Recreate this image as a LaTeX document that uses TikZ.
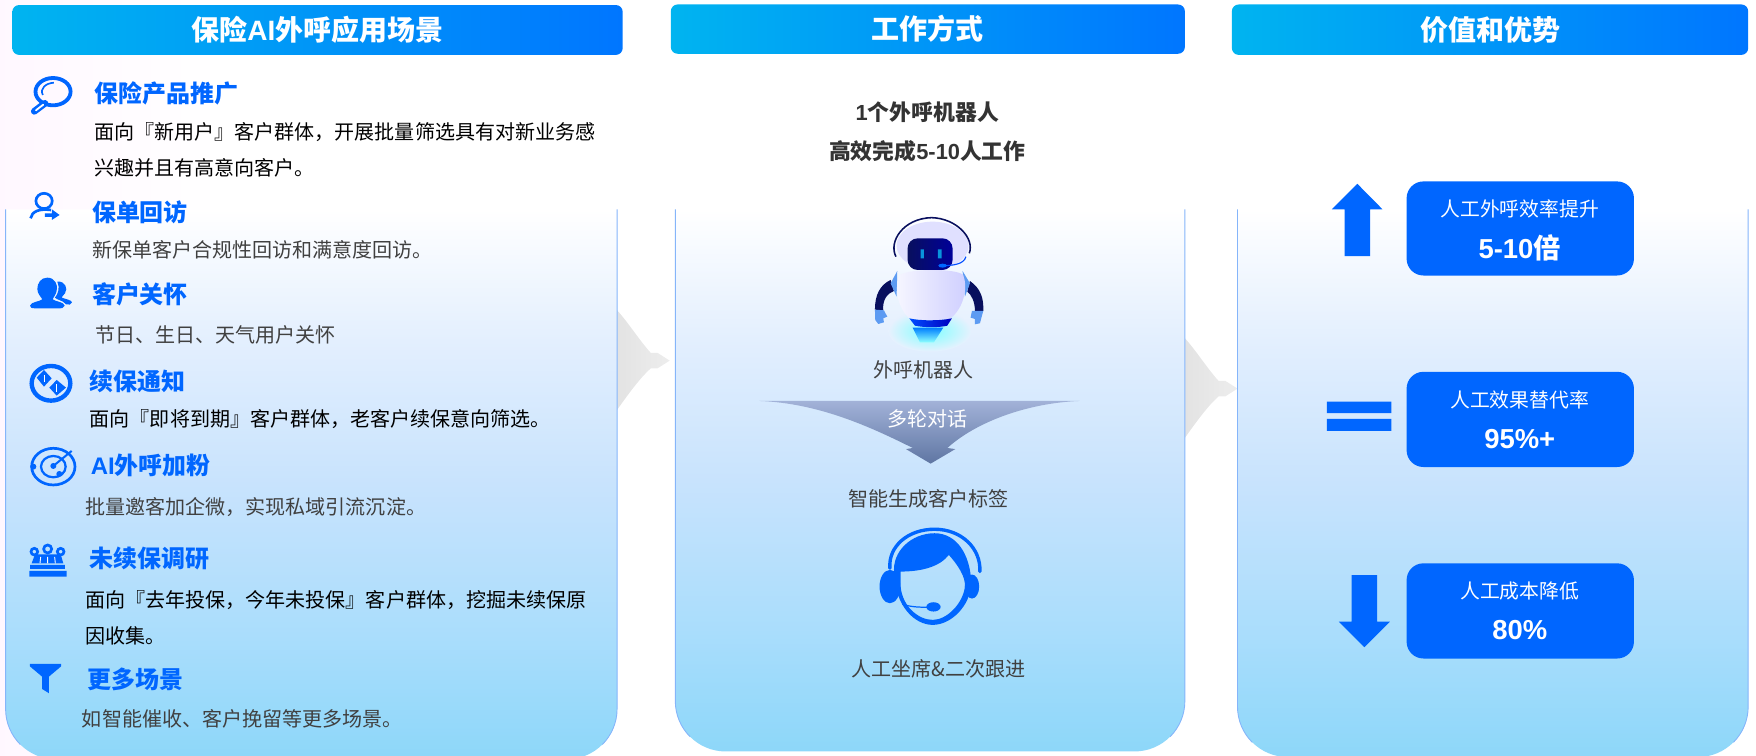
\documentclass[tikz,border=0pt]{standalone}
\usepackage{fontspec}
\setmainfont{Noto Sans CJK SC}
\newfontfamily\latinfont{Liberation Sans}
\newfontfamily\cjkfont{Noto Sans CJK SC}
\usetikzlibrary{positioning}
\definecolor{mainblue}{HTML}{0066FF}
\definecolor{edgeblue}{HTML}{85B5FA}
\definecolor{darktext}{HTML}{404040}
\definecolor{navy}{HTML}{080F5E}
\definecolor{barleft}{HTML}{00B4F0}
\definecolor{barright}{HTML}{0076FF}
\definecolor{handblue}{HTML}{5D9BF2}
\definecolor{funneltop}{HTML}{A2B2D8}
\definecolor{funnelend}{HTML}{5F76A3}
\newcommand{\fsize}[1]{\fontsize{#1}{#1}\selectfont}
\pgfdeclareverticalshading{panelfade}{100bp}{rgb(0bp)=(0.553,0.843,0.976); rgb(25bp)=(0.553,0.843,0.976); rgb(36bp)=(0.663,0.867,0.988); rgb(50bp)=(0.784,0.890,0.992); rgb(63bp)=(0.890,0.937,0.996); rgb(75bp)=(1,1,1); rgb(100bp)=(1,1,1)}
\tikzset{headbar/.style={rounded corners=6pt, left color=barleft, middle color=barleft, right color=barright}}
\tikzset{headtext/.style={text=white, font=\fsize{25}\bfseries}}
\tikzset{paneledge/.style={draw=edgeblue, line width=0.8pt}}
\tikzset{scenetitle/.style={anchor=west, inner sep=0pt, text=mainblue, font=\fsize{21.4}\bfseries}}
\tikzset{scenetext/.style={anchor=west, inner sep=0pt, text=black, font=\fsize{17.9}}}
\tikzset{scenegray/.style={scenetext, text=darktext}}
\tikzset{midtext/.style={inner sep=0pt, text=darktext, font=\fsize{17.9}}}
\tikzset{midbold/.style={inner sep=0pt, text=black!80, font=\fsize{19.5}\bfseries}}
\tikzset{valuebox/.style={fill=mainblue, rounded corners=15pt}}
\tikzset{valuetop/.style={inner sep=0pt, text=white, font=\fsize{17.7}}}
\tikzset{valuenum/.style={inner sep=0pt, text=white, font=\fsize{24.5}\bfseries\latinfont}}
\tikzset{chevron/.style={left color=black!11, right color=black!7}}
\tikzset{iconfill/.style={fill=mainblue, draw=none}}
\tikzset{iconline/.style={draw=mainblue, fill=none}}
\tikzset{iconscale/.style={x=0.2976pt, y=-0.2976pt}}
\begin{document}
\begin{tikzpicture}[x=1pt,y=-1pt]
    \useasboundingbox (0,0) rectangle (1568,675);
    \shade[left color=magenta!3, right color=white] (0,0) rectangle (200,675);

    % chevrons
    \foreach \xa/\ya in {551/322, 1058/347}{
        \shade[chevron] (\xa,\ya-45) .. controls (\xa+10,\ya-34) and (\xa+20,\ya-18) .. (\xa+30,\ya-7)
            -- (\xa+36,\ya-7) -- (\xa+47,\ya) -- (\xa+36,\ya+7) -- (\xa+30,\ya+7)
            .. controls (\xa+20,\ya+16) and (\xa+10,\ya+30) .. (\xa,\ya+44) -- cycle;
    }

    % panels
    \foreach \xa/\xb/\yb in {5/551/678, 603/1058/671, 1105/1561/676}{
        \shade[shading=panelfade] (\xa,187) -- (\xa,\yb-45) arc[start angle=180, end angle=90, x radius=45pt, y radius=-45pt]
            -- (\xb-45,\yb) arc[start angle=90, end angle=0, x radius=45pt, y radius=-45pt] -- (\xb,187) -- cycle;
        \draw[paneledge] (\xa,187) -- (\xa,\yb-45) arc[start angle=180, end angle=135, x radius=45pt, y radius=-45pt];
        \draw[paneledge] (\xb,187) -- (\xb,\yb-45) arc[start angle=0, end angle=45, x radius=45pt, y radius=-45pt];
    }

    % header bars
    \shade[headbar] (11,4.5) rectangle (556,49);
    \shade[headbar] (599,4) rectangle (1058,48);
    \shade[headbar] (1100,4) rectangle (1561,49);
    \node[headtext](headscene) at (283.5,27){保险{\latinfont AI}外呼应用场景};
    \node[headtext](headwork) at (828.5,26){工作方式};
    \node[headtext](headvalue) at (1331,27){价值和优势};

    % left column
    \node[scenetitle](titlea) at (84,83){保险产品推广};
    \node[scenetext](texta) at (84,118){面向『新用户』客户群体，开展批量筛选具有对新业务感};
    \node[scenetext](textaa) at (84,150){兴趣并且有高意向客户。};
    \node[scenetitle](titleb) at (82,190){保单回访};
    \node[scenegray](textb) at (82,223){新保单客户合规性回访和满意度回访。};
    \node[scenetitle](titlec) at (82,263){客户关怀};
    \node[scenegray](textc) at (85,299){节日、生日、天气用户关怀};
    \node[scenetitle](titled) at (80,341){续保通知};
    \node[scenetext](textd) at (80,374){面向『即将到期』客户群体，老客户续保意向筛选。};
    \node[scenetitle](titlee) at (81,416){{\latinfont AI}外呼加粉};
    \node[scenegray](texte) at (76,453){批量邀客加企微，实现私域引流沉淀。};
    \node[scenetitle](titlef) at (80,499){未续保调研};
    \node[scenetext](textf) at (76,536){面向『去年投保，今年未投保』客户群体，挖掘未续保原};
    \node[scenetext](textff) at (76,568){因收集。};
    \node[scenetitle](titleg) at (78,607){更多场景};
    \node[scenegray](textg) at (73,642){如智能催收、客户挽留等更多场景。};

    % left icons
    \begin{scope}[x=0.3644pt, y=-0.2976pt]
        \draw[iconline, line width=3.4pt] (130,275) ellipse[x radius=43, y radius=41];
        \draw[iconline, line width=1.5pt] (105,285) .. controls (97,265) and (112,250) .. (132,248);
        \draw[mainblue, line width=6pt, line cap=round] (110,310) -- (84,334);
        \draw[white, line width=1.6pt, line cap=round] (106,314) -- (88,331);
        \draw[iconline, line width=2.4pt] (108,603) ellipse[x radius=20, y radius=23];
        \draw[iconline, line width=2.4pt] (75,655) .. controls (78,635) and (95,625) .. (125,630);
        \fill[iconfill] (110,640) -- (127,640) -- (127,628) -- (146,645) -- (127,660) -- (127,651) -- (110,651) -- cycle;
        \fill[iconfill] (73,1992) -- (150,1992) -- (150,1999) -- (120,2030) -- (120,2080) -- (103,2067) -- (103,2030) -- (73,1999) -- cycle;
    \end{scope}
    \begin{scope}[shift={(17.86,236.6)}, iconscale]
        \fill[iconfill] (82,38) .. controls (105,38) and (115,60) .. (110,78) .. controls (107,90) and (100,98) .. (98,103)
            .. controls (105,110) and (132,110) .. (134,122) .. controls (132,130) and (125,130) .. (115,130) -- (45,130)
            .. controls (35,130) and (30,128) .. (30,122) .. controls (33,110) and (60,110) .. (67,103)
            .. controls (62,95) and (52,85) .. (52,72) .. controls (52,55) and (62,38) .. (82,38) -- cycle;
        \fill[iconfill] (112,50) .. controls (135,48) and (145,70) .. (135,85) .. controls (130,92) and (125,95) .. (125,98)
            .. controls (135,102) and (155,105) .. (156,112) .. controls (155,120) and (145,120) .. (138,118)
            .. controls (128,105) and (110,105) .. (105,98) .. controls (115,85) and (120,70) .. (112,50) -- cycle;
    \end{scope}
    \begin{scope}[shift={(17.86,316.96)}, iconscale]
        \draw[iconline, line width=3.9pt] (93,85) ellipse[x radius=58, y radius=52];
        \fill[iconfill] (50,68) -- (72,45) -- (95,70) -- (72,95) -- cycle (88,98) -- (110,75) -- (138,98) -- (110,122) -- cycle;
        \draw[white, line width=0.7pt] (72,60) -- (72,82) (110,88) -- (110,110);
    \end{scope}
    \begin{scope}[shift={(17.86,392.86)}, iconscale]
        \draw[iconline, line width=2.4pt] (100,80) ellipse[x radius=65, y radius=55];
        \draw[iconline, line width=2pt] (100,80) ellipse[x radius=37, y radius=32];
        \draw[mainblue, line width=1.8pt] (100,78) -- (155,33);
        \fill[iconfill] (100,78) circle[radius=9] (40,80) circle[radius=9] (118,102) circle[radius=9];
    \end{scope}
    \begin{scope}[shift={(17.86,477.7)}, iconscale]
        \draw[iconline, line width=2.4pt] (83,42) circle[radius=12] (43,50) circle[radius=10] (122,50) circle[radius=10];
        \fill[iconfill] (45,58) -- (122,58) -- (130,85) -- (35,85) -- cycle;
        \draw[white, line width=0.8pt] (62,66) -- (60,85) (83,66) -- (83,85) (104,66) -- (106,85);
        \fill[iconfill] (30,90) -- (135,90) -- (135,102) -- (30,102) -- cycle (28,108) -- (140,108) -- (140,125) -- (28,125) -- cycle;
    \end{scope}

    % middle column
    \node[midbold](roboa) at (828,100){{\latinfont 1}个外呼机器人};
    \node[midbold](robob) at (828,135){高效完成{\latinfont 5-10}人工作};
    \node[midtext](robolabel) at (825,330){外呼机器人};
    \shade[top color=funneltop, bottom color=funnelend] (678,358) .. controls (730,360) and (775,380) .. (815,400)
        -- (809,401) -- (831,414) -- (853,401) -- (846,400) .. controls (870,378) and (915,360) .. (964,358) -- cycle;
    \node[midtext, text=white](dialog) at (828,374){多轮对话};
    \node[midtext](taglabel) at (829,445){智能生成客户标签};
    \node[midtext](agentlabel) at (838,597){人工坐席\&二次跟进};

    % robot
    \begin{scope}[shift={(767.86,183.04)}, iconscale]
        \definecolor{glowback}{rgb}{0.905,0.945,0.996}
        \shade[inner color=cyan!50!white, outer color=glowback] (210,378) ellipse[x radius=125, y radius=62];
        \fill[navy] (92,225) .. controls (60,240) and (45,270) .. (45,314) -- (70,316) .. controls (67,285) and (82,265) .. (102,258) -- cycle;
        \fill[navy] (330,228) .. controls (362,250) and (372,280) .. (370,318) -- (345,318) .. controls (345,290) and (335,270) .. (322,260) -- cycle;
        \fill[handblue] (45,314) -- (72,316) -- (82,335) -- (70,340) -- (72,352) -- (55,357) -- (46,345) -- cycle;
        \fill[handblue] (370,318) -- (336,318) -- (332,338) -- (345,342) -- (345,358) -- (360,355) -- cycle;
        \fill[handblue] (112,198) -- (92,235) -- (110,275) -- cycle (308,198) -- (330,235) -- (315,275) -- cycle;
        \shade[left color=blue!3!white, right color=blue!19!white] (120,210) .. controls (150,190) and (290,190) .. (310,210)
            .. controls (325,250) and (310,310) .. (272,340) .. controls (240,348) and (180,348) .. (148,340)
            .. controls (115,310) and (100,250) .. (120,210) -- cycle;
        \shade[top color=blue!50!cyan, bottom color=cyan!45!white] (158,368) -- (250,368) -- (222,412) -- (180,412) -- cycle;
        \shade[left color=blue!70!cyan, right color=blue!75!black] (148,340) .. controls (180,348) and (240,348) .. (276,340) -- (262,362) .. controls (240,368) and (190,368) .. (165,362) -- cycle;
        \fill[blue!12!white] (218,122) ellipse[x radius=108, y radius=72];
        \draw[navy, line width=1.4pt] (108,155) .. controls (85,110) and (130,40) .. (215,38) .. controls (290,40) and (345,100) .. (328,145);
        \shade[left color=navy, right color=blue!60!black, rounded corners=9pt] (143,100) rectangle (278,195);
        \fill[cyan!80!blue] (182,133) rectangle (192,160) (234,133) rectangle (245,160);
        \draw[blue!70!cyan, line width=1pt] (318,155) .. controls (312,178) and (280,182) .. (245,182);
        \fill[blue!60!cyan] (248,182) ellipse[x radius=13, y radius=6];
    \end{scope}

    % agent
    \begin{scope}[shift={(571.4,169.6)}, x=0.3189pt, y=-0.2976pt]
        \draw[mainblue, line width=3pt, line cap=round] (700,1135) .. controls (695,1070) and (750,1018) .. (825,1018) .. controls (900,1018) and (955,1075) .. (952,1145);
        \fill[iconfill, even odd rule] (712,1150) .. controls (705,1085) and (760,1030) .. (825,1030) .. controls (885,1030) and (925,1090) .. (928,1180)
            .. controls (925,1250) and (870,1305) .. (820,1305) .. controls (770,1305) and (715,1250) .. (712,1150) -- cycle
            (730,1145) .. controls (790,1145) and (840,1130) .. (865,1095) .. controls (890,1125) and (912,1160) .. (910,1190)
            .. controls (905,1240) and (860,1290) .. (820,1290) .. controls (780,1290) and (735,1250) .. (730,1190) -- cycle;
        \fill[iconfill] (700,1190) ellipse[x radius=29, y radius=50] (930,1190) ellipse[x radius=20, y radius=36];
        \draw[mainblue, line width=1.1pt] (735,1243) .. controls (760,1252) and (785,1252) .. (805,1252);
        \fill[iconfill] (822,1251) ellipse[x radius=20, y radius=14];
    \end{scope}

    % right column
    \fill[valuebox] (1256,162) rectangle (1459,246);
    \fill[valuebox] (1256,332) rectangle (1459,417);
    \fill[valuebox] (1256,503) rectangle (1459,588);
    \node[valuetop](vala) at (1357,187){人工外呼效率提升};
    \node[valuenum](numa) at (1357,221){5-10{\cjkfont\bfseries 倍}};
    \node[valuetop](valb) at (1357,357){人工效果替代率};
    \node[valuenum](numb) at (1357,392){95\%+};
    \node[valuetop](valc) at (1357,528){人工成本降低};
    \node[valuenum](numc) at (1357,563){80\%};

    \begin{scope}[shift={(1071.4,133.9)}, x=0.3166pt, y=-0.3079pt]
        \fill[iconfill] (444,98) -- (515,172) -- (480,172) -- (480,308) -- (408,308) -- (408,172) -- (372,172) -- cycle;
        \fill[iconfill] (358,730) rectangle (540,763) (358,780) rectangle (540,815);
        \fill[iconfill] (464,1442) -- (536,1368) -- (500,1368) -- (500,1233) -- (428,1233) -- (428,1368) -- (392,1368) -- cycle;
    \end{scope}
\end{tikzpicture}
\end{document}
